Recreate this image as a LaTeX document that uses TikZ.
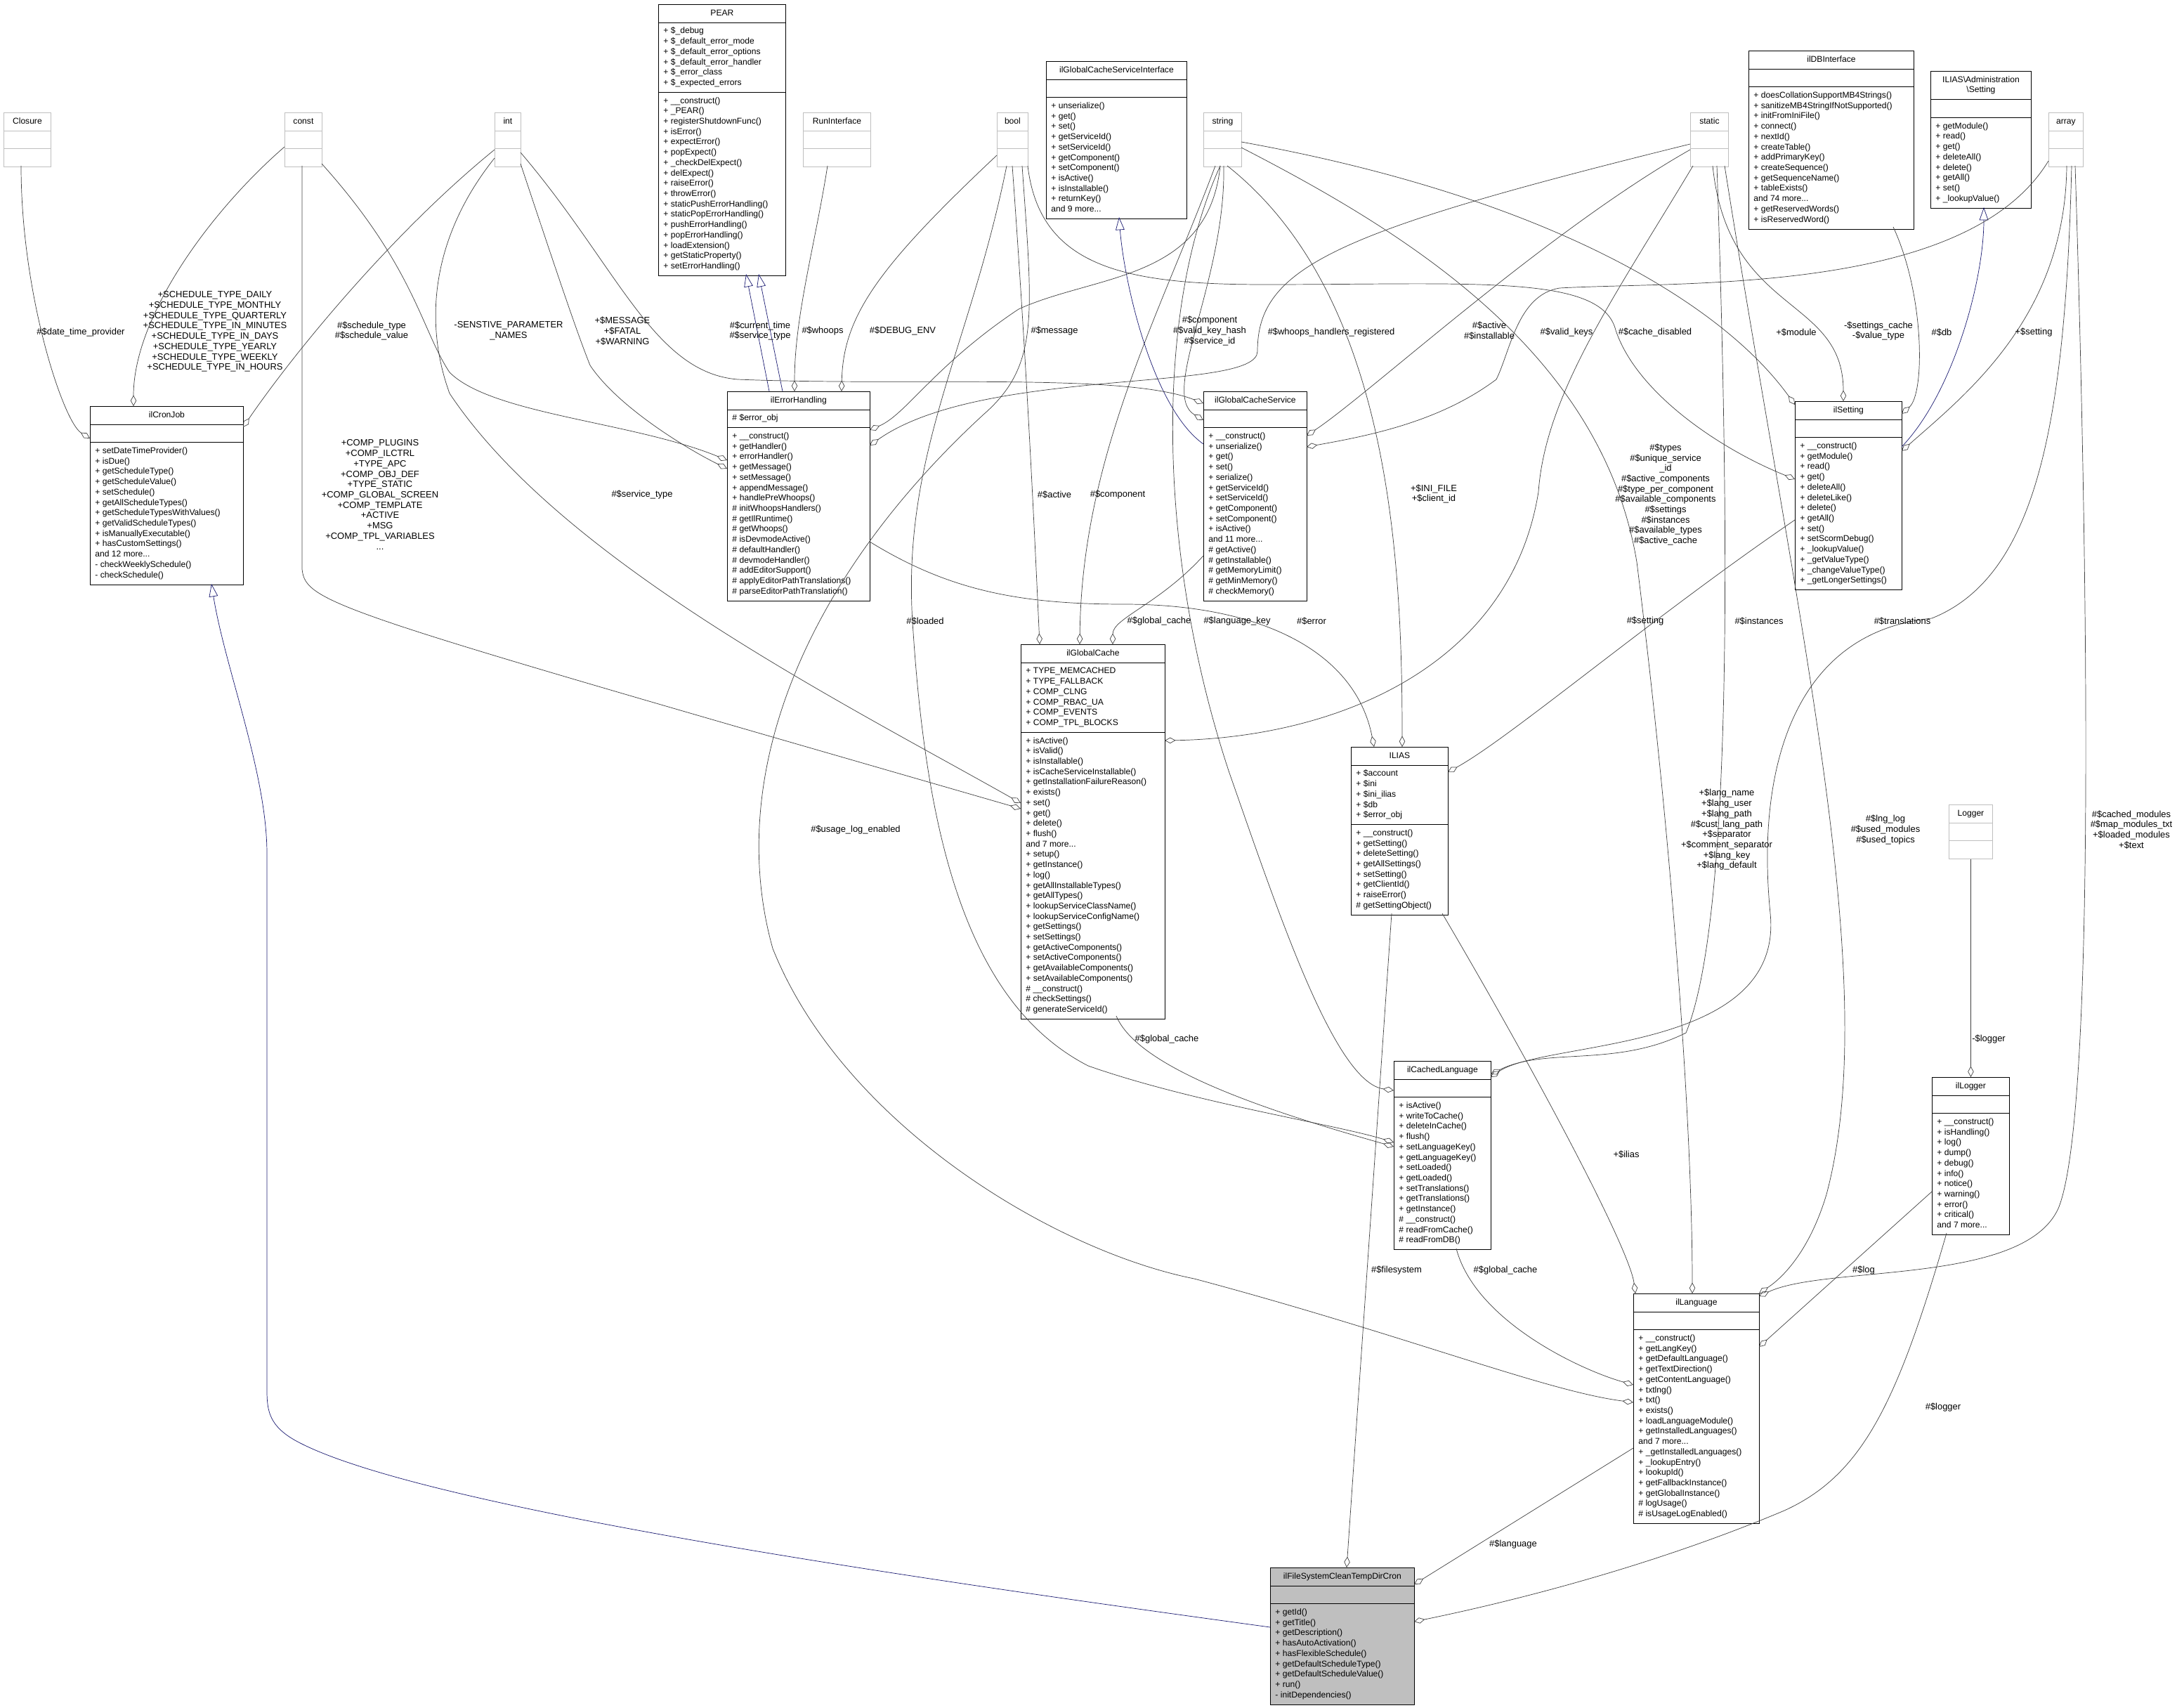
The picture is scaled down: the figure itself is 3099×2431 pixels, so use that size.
\documentclass[tikz,border=0pt]{standalone}
\usepackage{fontspec}
\setmainfont{Liberation Sans}
\usetikzlibrary{arrows.meta,shapes.multipart,calc}
\definecolor{inhblue}{RGB}{25,25,112}
\definecolor{edgegray}{RGB}{64,64,64}
\tikzset{
  classbox/.style={draw=black, fill=white, rectangle split, rectangle split parts=3,
    rectangle split part align={center,left,left}, align=left, anchor=north west,
    inner xsep=5pt, inner ysep=3.6pt, line width=0.6pt,
    font=\fontsize{8.6}{10.46}\selectfont},
  typebox/.style={classbox, draw=black!25},
  agg/.style={draw=edgegray, line width=0.5pt, -{Diamond[open,length=11pt,width=6pt]}},
  inh/.style={draw=inhblue, line width=0.5pt, -{Triangle[open,length=13pt,width=9pt]}},
  lbl/.style={font=\fontsize{9.2}{10.46}\selectfont, align=center, inner sep=0pt}
}
\newcommand\umlclass[8][]{\node[classbox,minimum width=#5*0.025cm,#1] (#2) at (#3,#4)
  {\strut#6\nodepart{two}\strut#7\strut\nodepart{three}\strut#8\strut};}
\newcommand\typeclass[3]{\node[typebox,minimum width=#3*0.025cm] (#1) at (#2,160)
  {\strut#1\nodepart{two}\strut\nodepart{three}\strut};}

\begin{document}
\begin{tikzpicture}[x=0.025cm,y=-0.025cm]
  \useasboundingbox (0,0) rectangle (3099,2431);

  % plain types
  \typeclass{Closure}{5}{67}
  \typeclass{const}{405}{53}
  \typeclass{int}{704}{37}
  \typeclass{RunInterface}{1143}{96}
  \typeclass{bool}{1419}{44}
  \typeclass{string}{1713}{54}
  \typeclass{static}{2406}{54}
  \typeclass{array}{2916}{49}
  \node[typebox,minimum width=62*0.025cm] (Logger) at (2774,1145) {\strut Logger\nodepart{two}\strut\nodepart{three}\strut};

  % classes
  \umlclass{PEAR}{937}{6}{181}{PEAR}
    {+ \$\_debug\\+ \$\_default\_error\_mode\\+ \$\_default\_error\_options\\+ \$\_default\_error\_handler\\+ \$\_error\_class\\+ \$\_expected\_errors}
    {+ \_\_construct()\\+ \_PEAR()\\+ registerShutdownFunc()\\+ isError()\\+ expectError()\\+ popExpect()\\+ \_checkDelExpect()\\+ delExpect()\\+ raiseError()\\+ throwError()\\+ staticPushErrorHandling()\\+ staticPopErrorHandling()\\+ pushErrorHandling()\\+ popErrorHandling()\\+ loadExtension()\\+ getStaticProperty()\\+ setErrorHandling()}
  \umlclass{gcsiface}{1489}{87}{200}{ilGlobalCacheServiceInterface}{}
    {+ unserialize()\\+ get()\\+ set()\\+ getServiceId()\\+ setServiceId()\\+ getComponent()\\+ setComponent()\\+ isActive()\\+ isInstallable()\\+ returnKey()\\and 9 more...}
  \umlclass{dbiface}{2489}{72}{235}{ilDBInterface}{}
    {+ doesCollationSupportMB4Strings()\\+ sanitizeMB4StringIfNotSupported()\\+ initFromIniFile()\\+ connect()\\+ nextId()\\+ createTable()\\+ addPrimaryKey()\\+ createSequence()\\+ getSequenceName()\\+ tableExists()\\and 74 more...\\+ getReservedWords()\\+ isReservedWord()}
  \umlclass{adminsetting}{2748}{101}{143}{\begin{tabular}{@{}c@{}}ILIAS\textbackslash Administration\\\textbackslash Setting\end{tabular}}{}
    {+ getModule()\\+ read()\\+ get()\\+ deleteAll()\\+ delete()\\+ getAll()\\+ set()\\+ \_lookupValue()}
  \umlclass{cronjob}{128}{578}{218}{ilCronJob}{}
    {+ setDateTimeProvider()\\+ isDue()\\+ getScheduleType()\\+ getScheduleValue()\\+ setSchedule()\\+ getAllScheduleTypes()\\+ getScheduleTypesWithValues()\\+ getValidScheduleTypes()\\+ isManuallyExecutable()\\+ hasCustomSettings()\\and 12 more...\\- checkWeeklySchedule()\\- checkSchedule()}
  \umlclass{errhandling}{1035}{557}{203}{ilErrorHandling}{\# \$error\_obj}
    {+ \_\_construct()\\+ getHandler()\\+ errorHandler()\\+ getMessage()\\+ setMessage()\\+ appendMessage()\\+ handlePreWhoops()\\\# initWhoopsHandlers()\\\# getIlRuntime()\\\# getWhoops()\\\# isDevmodeActive()\\\# defaultHandler()\\\# devmodeHandler()\\\# addEditorSupport()\\\# applyEditorPathTranslations()\\\# parseEditorPathTranslation()}
  \umlclass{gcservice}{1713}{557}{147}{ilGlobalCacheService}{}
    {+ \_\_construct()\\+ unserialize()\\+ get()\\+ set()\\+ serialize()\\+ getServiceId()\\+ setServiceId()\\+ getComponent()\\+ setComponent()\\+ isActive()\\and 11 more...\\\# getActive()\\\# getInstallable()\\\# getMemoryLimit()\\\# getMinMemory()\\\# checkMemory()}
  \umlclass{setting}{2555}{571}{152}{ilSetting}{}
    {+ \_\_construct()\\+ getModule()\\+ read()\\+ get()\\+ deleteAll()\\+ deleteLike()\\+ delete()\\+ getAll()\\+ set()\\+ setScormDebug()\\+ \_lookupValue()\\+ \_getValueType()\\+ \_changeValueType()\\+ \_getLongerSettings()}
  \umlclass{gcache}{1453}{917}{205}{ilGlobalCache}
    {+ TYPE\_MEMCACHED\\+ TYPE\_FALLBACK\\+ COMP\_CLNG\\+ COMP\_RBAC\_UA\\+ COMP\_EVENTS\\+ COMP\_TPL\_BLOCKS}
    {+ isActive()\\+ isValid()\\+ isInstallable()\\+ isCacheServiceInstallable()\\+ getInstallationFailureReason()\\+ exists()\\+ set()\\+ get()\\+ delete()\\+ flush()\\and 7 more...\\+ setup()\\+ getInstance()\\+ log()\\+ getAllInstallableTypes()\\+ getAllTypes()\\+ lookupServiceClassName()\\+ lookupServiceConfigName()\\+ getSettings()\\+ setSettings()\\+ getActiveComponents()\\+ setActiveComponents()\\+ getAvailableComponents()\\+ setAvailableComponents()\\\# \_\_construct()\\\# checkSettings()\\\# generateServiceId()}
  \umlclass{ilias}{1923}{1063}{138}{ILIAS}
    {+ \$account\\+ \$ini\\+ \$ini\_ilias\\+ \$db\\+ \$error\_obj}
    {+ \_\_construct()\\+ getSetting()\\+ deleteSetting()\\+ getAllSettings()\\+ setSetting()\\+ getClientId()\\+ raiseError()\\\# getSettingObject()}
  \umlclass{cachedlang}{1984}{1510}{138}{ilCachedLanguage}{}
    {+ isActive()\\+ writeToCache()\\+ deleteInCache()\\+ flush()\\+ setLanguageKey()\\+ getLanguageKey()\\+ setLoaded()\\+ getLoaded()\\+ setTranslations()\\+ getTranslations()\\+ getInstance()\\\# \_\_construct()\\\# readFromCache()\\\# readFromDB()}
  \umlclass{logger}{2750}{1533}{110}{ilLogger}{}
    {+ \_\_construct()\\+ isHandling()\\+ log()\\+ dump()\\+ debug()\\+ info()\\+ notice()\\+ warning()\\+ error()\\+ critical()\\and 7 more...}
  \umlclass{language}{2325}{1841}{179}{ilLanguage}{}
    {+ \_\_construct()\\+ getLangKey()\\+ getDefaultLanguage()\\+ getTextDirection()\\+ getContentLanguage()\\+ txtlng()\\+ txt()\\+ exists()\\+ loadLanguageModule()\\+ getInstalledLanguages()\\and 7 more...\\+ \_getInstalledLanguages()\\+ \_lookupEntry()\\+ lookupId()\\+ getFallbackInstance()\\+ getGlobalInstance()\\\# logUsage()\\\# isUsageLogEnabled()}
  \umlclass[fill=black!25]{tempdircron}{1808}{2231}{205}{ilFileSystemCleanTempDirCron}{}
    {+ getId()\\+ getTitle()\\+ getDescription()\\+ hasAutoActivation()\\+ hasFlexibleSchedule()\\+ getDefaultScheduleType()\\+ getDefaultScheduleValue()\\+ run()\\- initDependencies()}

  % inheritance
  \draw[inh] ($(errhandling.north west)+(60,0)$) -- ($(PEAR.north west)+(125,384)$);
  \draw[inh] ($(errhandling.north west)+(79,0)$) -- ($(PEAR.north west)+(143,384)$);
  \draw[inh] ($(gcservice.north west)+(0,75)$) .. controls (1640,580) and (1600,400) .. ($(gcsiface.north west)+(104,222)$);
  \draw[inh] ($(setting.north west)+(152,65)$) .. controls (2780,560) and (2824,400) .. ($(adminsetting.north west)+(76,194)$);
  \draw[inh] ($(tempdircron.north west)+(0,85)$) .. controls (1400,2260) and (600,2150) .. (420,2050)
    .. controls (385,2030) and (380,2010) .. (380,1980) -- (380,1215)
    .. controls (380,1100) and (320,950) .. ($(cronjob.north west)+(173,253)$);

  % aggregations
  \draw[agg] ($(Closure.north west)+(25,76)$) .. controls (30,420) and (90,600) .. ($(cronjob.north west)+(0,46)$);
  \draw[agg] ($(const.north west)+(0,49)$) .. controls (300,300) and (190,450) .. ($(cronjob.north west)+(62,0)$);
  \draw[agg] ($(int.north west)+(0,53)$) .. controls (560,330) and (420,500) .. ($(cronjob.north west)+(218,30)$);
  \draw[agg] ($(const.north west)+(53,73)$) .. controls (590,380) and (600,470) .. (640,530)
    .. controls (700,590) and (900,600) .. ($(errhandling.north west)+(0,98)$);
  \draw[agg] ($(int.north west)+(37,73)$) .. controls (790,380) and (820,470) .. (840,520)
    .. controls (880,580) and (980,640) .. ($(errhandling.north west)+(0,110)$);
  \draw[agg] ($(int.north west)+(0,65)$) .. controls (620,330) and (600,450) .. (640,560)
    .. controls (800,800) and (1200,1000) .. ($(gcache.north west)+(0,226)$);
  \draw[agg] ($(const.north west)+(25,76)$) -- (430,810) .. controls (435,860) and (480,870) .. ($(gcache.north west)+(0,234)$);
  \draw[agg] ($(int.north west)+(37,57)$) .. controls (880,380) and (930,530) .. (1050,540)
    .. controls (1300,550) and (1600,530) .. ($(gcservice.north west)+(0,17)$);
  \draw[agg] ($(RunInterface.north west)+(35,76)$) .. controls (1160,350) and (1131,450) .. ($(errhandling.north west)+(96,0)$);
  \draw[agg] ($(bool.north west)+(0,61)$) .. controls (1250,380) and (1200,450) .. ($(errhandling.north west)+(163,0)$);
  \draw[agg] ($(string.north west)+(24,76)$) .. controls (1720,400) and (1560,390) .. (1450,440)
    .. controls (1330,520) and (1290,590) .. ($(errhandling.north west)+(203,55)$);
  \draw[agg] ($(static.north west)+(0,45)$) .. controls (1900,330) and (1790,380) .. (1790,500)
    .. controls (1790,560) and (1400,520) .. ($(errhandling.north west)+(203,77)$);
  \draw[agg] ($(bool.north west)+(22,76)$) .. controls (1460,500) and (1470,700) .. ($(gcache.north west)+(27,0)$);
  \draw[agg] ($(string.north west)+(17,76)$) .. controls (1650,450) and (1540,650) .. ($(gcache.north west)+(84,0)$);
  \draw[agg] ($(bool.north west)+(14,76)$) .. controls (1380,500) and (1280,650) .. (1300,900)
    .. controls (1320,1200) and (1380,1430) .. (1549,1517)
    .. controls (1700,1570) and (1900,1600) .. ($(cachedlang.north west)+(0,116)$);
  \draw[agg] ($(bool.north west)+(36,76)$) .. controls (1470,450) and (1480,520) .. (1400,590)
    .. controls (1150,820) and (1030,1100) .. (1100,1350)
    .. controls (1200,1600) and (1500,1780) .. (1700,1820)
    .. controls (2000,1900) and (2200,1980) .. ($(language.north west)+(0,155)$);
  \draw[agg] ($(string.north west)+(29,76)$) .. controls (1745,400) and (1650,560) .. ($(gcservice.north west)+(0,41)$);
  \draw[agg] ($(static.north west)+(0,53)$) .. controls (2200,330) and (1950,560) .. ($(gcservice.north west)+(147,63)$);
  \draw[agg] ($(array.north west)+(0,69)$) .. controls (2800,420) and (2400,400) .. (2220,410)
    .. controls (2160,420) and (2150,500) .. (2130,540)
    .. controls (2050,600) and (1950,620) .. ($(gcservice.north west)+(147,79)$);
  \draw[agg] ($(static.north west)+(4,76)$) .. controls (2300,420) and (2200,560) .. (2190,700)
    .. controls (2150,950) and (1900,1050) .. ($(gcache.north west)+(205,137)$);
  \draw[agg] ($(bool.north west)+(44,76)$) .. controls (1480,380) and (1600,405) .. (1800,405)
    .. controls (2100,405) and (2280,390) .. (2300,470)
    .. controls (2330,560) and (2450,640) .. ($(setting.north west)+(0,111)$);
  \draw[agg] ($(string.north west)+(54,42)$) .. controls (2200,280) and (2450,430) .. ($(setting.north west)+(0,5)$);
  \draw[agg] ($(static.north west)+(32,76)$) .. controls (2460,450) and (2624,420) .. ($(setting.north west)+(69,0)$);
  \draw[agg] ($(dbiface.north west)+(206,251)$) .. controls (2740,420) and (2740,560) .. ($(setting.north west)+(152,18)$);
  \draw[agg] ($(array.north west)+(26,76)$) .. controls (2940,450) and (2800,560) .. ($(setting.north west)+(152,71)$);
  \draw[agg] ($(string.north west)+(34,76)$) .. controls (1980,420) and (1996,800) .. ($(ilias.north west)+(73,0)$);
  \draw[agg] ($(errhandling.north west)+(203,214)$) .. controls (1350,840) and (1450,860) .. (1600,860)
    .. controls (1800,860) and (1930,930) .. ($(ilias.north west)+(33,0)$);
  \draw[agg] ($(setting.north west)+(0,169)$) .. controls (2350,880) and (2150,1050) .. ($(ilias.north west)+(138,36)$);
  \draw[agg] ($(gcservice.north west)+(0,234)$) .. controls (1650,860) and (1584,880) .. ($(gcache.north west)+(131,0)$);
  \draw[agg] ($(string.north west)+(24,76)$) .. controls (1640,450) and (1650,800) .. (1750,1100)
    .. controls (1820,1300) and (1900,1540) .. ($(cachedlang.north west)+(0,42)$);
  \draw[agg] ($(static.north west)+(38,76)$) .. controls (2460,700) and (2470,1300) .. (2400,1470)
    .. controls (2300,1520) and (2200,1490) .. ($(cachedlang.north west)+(138,19)$);
  \draw[agg] ($(array.north west)+(33,76)$) .. controls (2940,600) and (2900,820) .. (2750,880)
    .. controls (2550,900) and (2500,1100) .. (2520,1300)
    .. controls (2540,1500) and (2200,1480) .. ($(cachedlang.north west)+(138,23)$);
  \draw[agg] ($(string.north west)+(54,50)$) .. controls (2000,330) and (2280,500) .. (2330,800)
    .. controls (2380,1200) and (2409,1600) .. ($(language.north west)+(84,0)$);
  \draw[agg] ($(static.north west)+(49,76)$) .. controls (2560,900) and (2680,1400) .. (2600,1700)
    .. controls (2570,1800) and (2520,1830) .. ($(language.north west)+(179,0)$);
  \draw[agg] ($(array.north west)+(38,76)$) .. controls (2975,900) and (2980,1600) .. (2930,1720)
    .. controls (2880,1830) and (2600,1800) .. ($(language.north west)+(179,4)$);
  \draw[agg] ($(ilias.north west)+(130,237)$) .. controls (2200,1550) and (2320,1780) .. ($(language.north west)+(3,0)$);
  \draw[agg] ($(cachedlang.north west)+(89,267)$) .. controls (2100,1880) and (2250,1950) .. ($(language.north west)+(0,130)$);
  \draw[agg] ($(gcache.north west)+(136,529)$) .. controls (1620,1520) and (1800,1580) .. ($(cachedlang.north west)+(0,122)$);
  \draw[agg] ($(logger.north west)+(0,163)$) -- ($(language.north west)+(179,76)$);
  \draw[agg] (Logger.south) -- (logger.north);
  \draw[agg] ($(ilias.north west)+(58,237)$) -- ($(tempdircron.north west)+(109,0)$);
  \draw[agg] ($(language.north west)+(0,220)$) -- ($(tempdircron.north west)+(205,24)$);
  \draw[agg] ($(logger.north west)+(21,222)$) .. controls (2700,2000) and (2650,2100) .. (2540,2150)
    .. controls (2350,2230) and (2150,2280) .. ($(tempdircron.north west)+(205,77)$);

  % labels
  \node[lbl] (l1) at (115,473) {\#\$date\_time\_provider};
  \node[lbl] (l2) at (306,472) {+SCHEDULE\_TYPE\_DAILY\\+SCHEDULE\_TYPE\_MONTHLY\\+SCHEDULE\_TYPE\_QUARTERLY\\+SCHEDULE\_TYPE\_IN\_MINUTES\\+SCHEDULE\_TYPE\_IN\_DAYS\\+SCHEDULE\_TYPE\_YEARLY\\+SCHEDULE\_TYPE\_WEEKLY\\+SCHEDULE\_TYPE\_IN\_HOURS};
  \node[lbl] (l3) at (529,471) {\#\$schedule\_type\\\#\$schedule\_value};
  \node[lbl] (l4) at (724,471) {-SENSTIVE\_PARAMETER\\\_NAMES};
  \node[lbl] (l5) at (886,471) {+\$MESSAGE\\+\$FATAL\\+\$WARNING};
  \node[lbl] (l6) at (914,704) {\#\$service\_type};
  \node[lbl] (l7) at (541,704) {+COMP\_PLUGINS\\+COMP\_ILCTRL\\+TYPE\_APC\\+COMP\_OBJ\_DEF\\+TYPE\_STATIC\\+COMP\_GLOBAL\_SCREEN\\+COMP\_TEMPLATE\\+ACTIVE\\+MSG\\+COMP\_TPL\_VARIABLES\\...};
  \node[lbl] (l8) at (1082,471) {\#\$current\_time\\\#\$service\_type};
  \node[lbl] (l9) at (1171,471) {\#\$whoops};
  \node[lbl] (l10) at (1285,471) {\#\$DEBUG\_ENV};
  \node[lbl] (l11) at (1501,471) {\#\$message};
  \node[lbl] (l12) at (1895,473) {\#\$whoops\_handlers\_registered};
  \node[lbl] (l13) at (1501,704) {\#\$active};
  \node[lbl] (l14) at (1591,704) {\#\$component};
  \node[lbl] (l15) at (1317,884) {\#\$loaded};
  \node[lbl] (l16) at (1218,1181) {\#\$usage\_log\_enabled};
  \node[lbl] (l17) at (1722,471) {\#\$component\\\#\$valid\_key\_hash\\\#\$service\_id};
  \node[lbl] (l18) at (2120,471) {\#\$active\\\#\$installable};
  \node[lbl] (l19) at (2230,473) {\#\$valid\_keys};
  \node[lbl] (l20) at (2371,704) {\#\$types\\\#\$unique\_service\\\_id\\\#\$active\_components\\\#\$type\_per\_component\\\#\$available\_components\\\#\$settings\\\#\$instances\\\#\$available\_types\\\#\$active\_cache};
  \node[lbl] (l21) at (2356,473) {\#\$cache\_disabled};
  \node[lbl] (l22) at (2557,473) {+\$module};
  \node[lbl] (l23) at (2674,471) {-\$settings\_cache\\-\$value\_type};
  \node[lbl] (l24) at (2764,473) {\#\$db};
  \node[lbl] (l25) at (2895,473) {+\$setting};
  \node[lbl] (l26) at (2041,703) {+\$INI\_FILE\\+\$client\_id};
  \node[lbl] (l27) at (1867,884) {\#\$error};
  \node[lbl] (l28) at (2342,884) {\#\$setting};
  \node[lbl] (l29) at (1650,884) {\#\$global\_cache};
  \node[lbl] (l30) at (1761,884) {\#\$language\_key};
  \node[lbl] (l31) at (2504,884) {\#\$instances};
  \node[lbl] (l32) at (2708,884) {\#\$translations};
  \node[lbl] (l33) at (2458,1181) {+\$lang\_name\\+\$lang\_user\\+\$lang\_path\\\#\$cust\_lang\_path\\+\$separator\\+\$comment\_separator\\+\$lang\_key\\+\$lang\_default};
  \node[lbl] (l34) at (2684,1181) {\#\$lng\_log\\\#\$used\_modules\\\#\$used\_topics};
  \node[lbl] (l35) at (3034,1181) {\#\$cached\_modules\\\#\$map\_modules\_txt\\+\$loaded\_modules\\+\$text};
  \node[lbl] (l36) at (2315,1643) {+\$ilias};
  \node[lbl] (l37) at (2143,1808) {\#\$global\_cache};
  \node[lbl] (l38) at (1661,1479) {\#\$global\_cache};
  \node[lbl] (l39) at (2653,1808) {\#\$log};
  \node[lbl] (l40) at (2831,1479) {-\$logger};
  \node[lbl] (l41) at (1988,1808) {\#\$filesystem};
  \node[lbl] (l42) at (2154,2198) {\#\$language};
  \node[lbl] (l43) at (2766,2003) {\#\$logger};
\end{tikzpicture}
\end{document}
